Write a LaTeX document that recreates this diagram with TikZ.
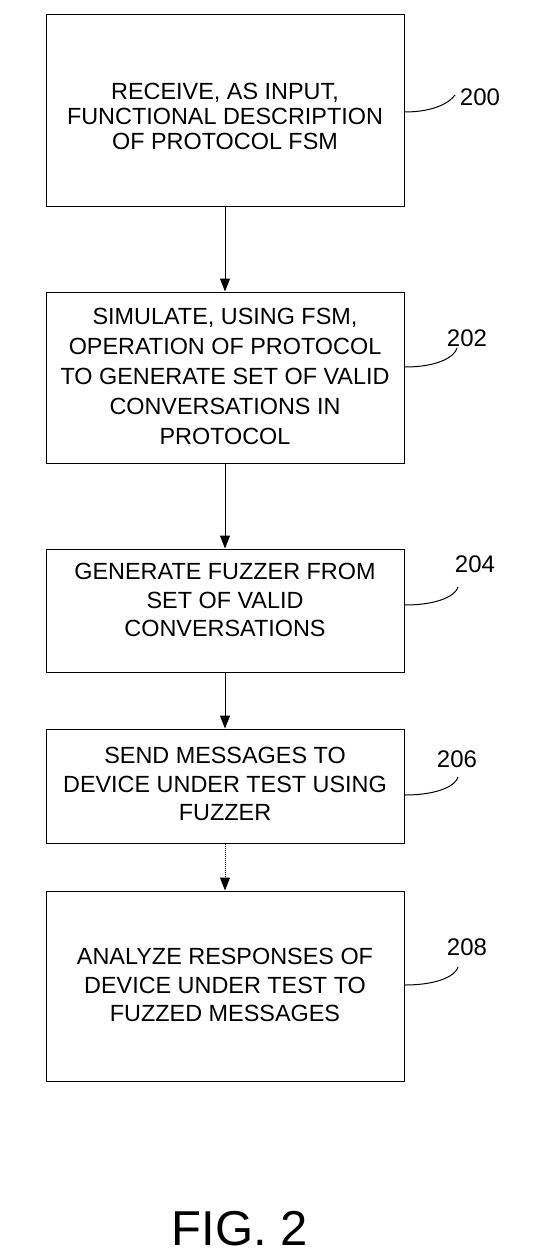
\documentclass[tikz,border=0pt]{standalone}
\usepackage{fontspec}
\setmainfont{Liberation Sans}
\usetikzlibrary{arrows.meta}
\begin{document}
\begin{tikzpicture}[x=1pt,y=-1pt,
  stepbox/.style={draw=black, line width=1pt, minimum width=358pt, inner sep=0pt},
  steptext/.style={align=center, inner sep=0pt, font=\fontsize{23.4}{28.5}\selectfont},
  reflabel/.style={font=\fontsize{24}{28}\selectfont, inner sep=0pt},
  flow/.style={line width=1pt, -{Triangle[length=13pt,width=10pt]}},
  leader/.style={line width=1pt}]
\useasboundingbox (0,0) rectangle (557,1260);
\node[stepbox, minimum height=191pt] (b1) at (225,110.5) {};
\node[stepbox, minimum height=171pt] (b2) at (225,377.5) {};
\node[stepbox, minimum height=123pt] (b3) at (225,610.5) {};
\node[stepbox, minimum height=114pt] (b4) at (225,786) {};
\node[stepbox, minimum height=190pt] (b5) at (225,986) {};
\node[steptext, font=\fontsize{23.4}{25}\selectfont] (t1) at (225,116) {RECEIVE, AS INPUT,\\FUNCTIONAL DESCRIPTION\\OF PROTOCOL FSM};
\node[steptext, font=\fontsize{23.4}{30.2}\selectfont] (t2) at (225,376.5) {SIMULATE, USING FSM,\\OPERATION OF PROTOCOL\\TO GENERATE SET OF VALID\\CONVERSATIONS IN\\PROTOCOL};
\node[steptext] (t3) at (225,600) {GENERATE FUZZER FROM\\SET OF VALID\\CONVERSATIONS};
\node[steptext] (t4) at (225,784) {SEND MESSAGES TO\\DEVICE UNDER TEST USING\\FUZZER};
\node[steptext] (t5) at (225,985) {ANALYZE RESPONSES OF\\DEVICE UNDER TEST TO\\FUZZED MESSAGES};
\draw[flow] (b1) -- (b2);
\draw[flow] (b2) -- (b3);
\draw[flow] (b3) -- (b4);
\draw[flow, densely dotted] (b4) -- (b5);
\node[reflabel] (l0) at (480,97) {200};
\node[reflabel] (l2) at (467,338) {202};
\node[reflabel] (l4) at (475,564) {204};
\node[reflabel] (l6) at (457,759) {206};
\node[reflabel] (l8) at (467,947) {208};
\coordinate (c0) at (455,95);
\coordinate (c2) at (457,348);
\coordinate (c4) at (458,587);
\coordinate (c6) at (458,777);
\coordinate (c8) at (458,967);
\draw[leader] ([yshift=-1.5pt]b1.east) .. controls +(32,0) and +(-4,6) .. (c0);
\draw[leader] ([yshift=10.5pt]b2.east) .. controls +(35,0) and +(-2,8) .. (c2);
\draw[leader] ([yshift=5.5pt]b3.east) .. controls +(35,0) and +(-2,8) .. (c4);
\draw[leader] ([yshift=-9pt]b4.east) .. controls +(35,0) and +(-2,8) .. (c6);
\draw[leader] ([yshift=1pt]b5.east) .. controls +(35,0) and +(-2,8) .. (c8);
\node[font=\fontsize{49}{55}\selectfont, inner sep=0pt] (fig) at (240,1229) {FIG. 2};
\end{tikzpicture}
\end{document}
